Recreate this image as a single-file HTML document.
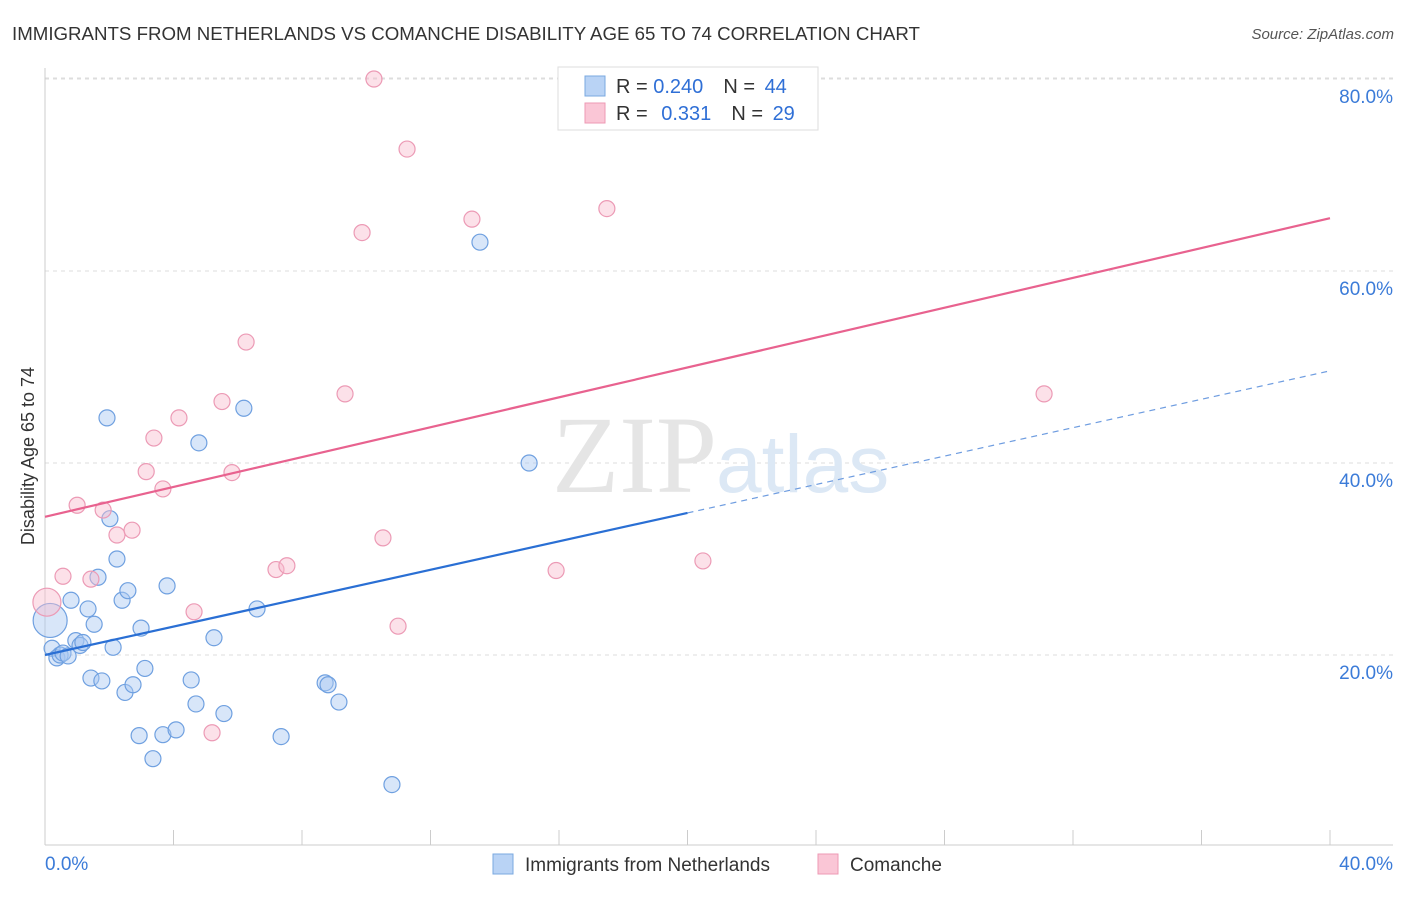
<!DOCTYPE html>
<html><head><meta charset="utf-8"><style>
body{margin:0;background:#fff;font-family:"Liberation Sans",sans-serif}
svg text{font-family:"Liberation Sans",sans-serif}
</style></head><body>
<svg width="1406" height="892">
<text x="12" y="40" font-size="18.7" fill="#333">IMMIGRANTS FROM NETHERLANDS VS COMANCHE DISABILITY AGE 65 TO 74 CORRELATION CHART</text>
<text x="1394" y="39" font-size="15" fill="#555" text-anchor="end" font-style="italic">Source: ZipAtlas.com</text>
<g id="grid"></g>
<g id="axes"></g>
<text x="552" y="492" font-size="110" fill="#e5e5e5" style="font-family:'Liberation Serif',serif">ZIP</text>
<text x="716" y="492" font-size="82" fill="#dce8f5">atlas</text>
<g id="marks"></g>
<text transform="translate(34,456) rotate(-90)" font-size="18" fill="#333" text-anchor="middle">Disability Age 65 to 74</text>
<g>
<rect x="558" y="67" width="260" height="63" fill="#fff" stroke="#ddd"/>
<rect x="585" y="76" width="20" height="20" fill="#b9d3f5" stroke="#7aa8e0"/>
<rect x="585" y="103" width="20" height="20" fill="#fac6d6" stroke="#ee99b4"/>
<text x="616" y="93" font-size="20" fill="#333">R = <tspan fill="#2f6fd6">0.240</tspan><tspan dx="20">N = </tspan><tspan dx="4" fill="#2f6fd6">44</tspan></text>
<text x="616" y="120" font-size="20" fill="#333">R = <tspan dx="8" fill="#2f6fd6">0.331</tspan><tspan dx="20">N = </tspan><tspan dx="4" fill="#2f6fd6">29</tspan></text>
</g>
<g>
<rect x="493" y="854" width="20" height="20" fill="#b9d3f5" stroke="#7aa8e0"/>
<text x="525" y="871" font-size="19" fill="#333">Immigrants from Netherlands</text>
<rect x="818" y="854" width="20" height="20" fill="#fac6d6" stroke="#ee99b4"/>
<text x="850" y="871" font-size="19" fill="#333">Comanche</text>
</g>
</svg>
<script>
const blueX=[0.16,0.22,0.37,0.47,0.56,0.72,0.81,0.96,1.09,1.18,1.34,1.43,1.53,1.65,1.77,1.93,2.02,2.12,2.24,2.40,2.49,2.58,2.74,2.93,2.99,3.11,3.36,3.67,3.80,4.08,4.55,4.70,4.79,5.26,5.57,6.19,6.60,7.35,8.72,8.81,9.15,10.80,13.54,15.07];
const blueY=[23.6,20.7,19.7,20.0,20.2,19.9,25.7,21.5,21.0,21.3,24.8,17.6,23.2,28.1,17.3,44.7,34.2,20.8,30.0,25.7,16.1,26.7,16.9,11.6,22.8,18.6,9.2,11.7,27.2,12.2,17.4,14.9,42.1,21.8,13.9,45.7,24.8,11.5,17.1,16.9,15.1,6.5,63.0,40.0];
const pinkX=[0.06,0.56,1.0,1.43,1.81,2.24,2.71,3.15,3.39,3.67,4.17,4.64,5.2,5.51,5.82,6.26,7.19,7.53,9.34,9.87,10.24,10.52,10.99,11.27,13.29,15.91,17.49,20.48,31.1];
const pinkY=[25.5,28.2,35.6,27.9,35.1,32.5,33.0,39.1,42.6,37.3,44.7,24.5,11.9,46.4,39.0,52.6,28.9,29.3,47.2,64.0,80.0,32.2,23.0,72.7,65.4,28.8,66.5,29.8,47.2];
const yTicks=[20,40,60,80];
const yTickLabels=["20.0%","40.0%","60.0%","80.0%"];
const blueTrend=[20.0,49.6];
const pinkTrend=[34.4,65.5];
const NS="http://www.w3.org/2000/svg";
const X=v=>45+v*32.125, Y=v=>847-v*9.6;
function mk(t,a,p){const e=document.createElementNS(NS,t);for(const k in a)e.setAttribute(k,a[k]);p.appendChild(e);return e;}
const grid=document.getElementById('grid'),axes=document.getElementById('axes'),marks=document.getElementById('marks');
yTicks.forEach((t,i)=>{const l=mk('line',{x1:45,x2:1393,y1:Y(t),y2:Y(t),stroke:'#ddd','stroke-dasharray':'4,4'},grid);


const tx=mk('text',{x:1393,y:Y(t)+24,'font-size':19,fill:'#3b7bd8','text-anchor':'end'},axes);tx.textContent=yTickLabels[i];

});
mk('line',{x1:45,x2:1393,y1:78,y2:78,stroke:'#ddd','stroke-dasharray':'4,4'},grid);
mk('line',{x1:45,x2:45,y1:68,y2:845,stroke:'#ccc'},axes);
mk('line',{x1:45,x2:1393,y1:845,y2:845,stroke:'#ccc'},axes);
for(let i=1;i<=10;i++){mk('line',{x1:X(i*4),x2:X(i*4),y1:830,y2:845,stroke:'#ccc'},axes);}
let t0=mk('text',{x:45,y:870,'font-size':19,fill:'#3b7bd8'},axes);t0.textContent='0.0%';


let t1=mk('text',{x:1393,y:870,'font-size':19,fill:'#3b7bd8','text-anchor':'end'},axes);t1.textContent='40.0%';


function pts(xs,ys,fill,stroke,name,bigR){xs.forEach((x,i)=>{const c=mk('circle',{cx:X(x),cy:Y(ys[i]),r:i===0?bigR:8,fill:fill,'fill-opacity':0.45,stroke:stroke,'stroke-width':1.2},marks);

});}
pts(blueX,blueY,'#a9c8f2','#6fa0e0','blue-point',17);
pts(pinkX,pinkY,'#f8bccf','#ec9ab5','pink-point',14);
const bm=blueTrend[0]+(blueTrend[1]-blueTrend[0])*20/40;
let bl=mk('line',{x1:X(0),y1:Y(blueTrend[0]),x2:X(20),y2:Y(bm),stroke:'#2a6fd4','stroke-width':2.2},marks);


let bd=mk('line',{x1:X(20),y1:Y(bm),x2:X(40),y2:Y(blueTrend[1]),stroke:'#6f9de0','stroke-width':1.2,'stroke-dasharray':'6,5'},marks);


let pl=mk('line',{x1:X(0),y1:Y(pinkTrend[0]),x2:X(40),y2:Y(pinkTrend[1]),stroke:'#e8628f','stroke-width':2.2},marks);


</script>
</body></html>
